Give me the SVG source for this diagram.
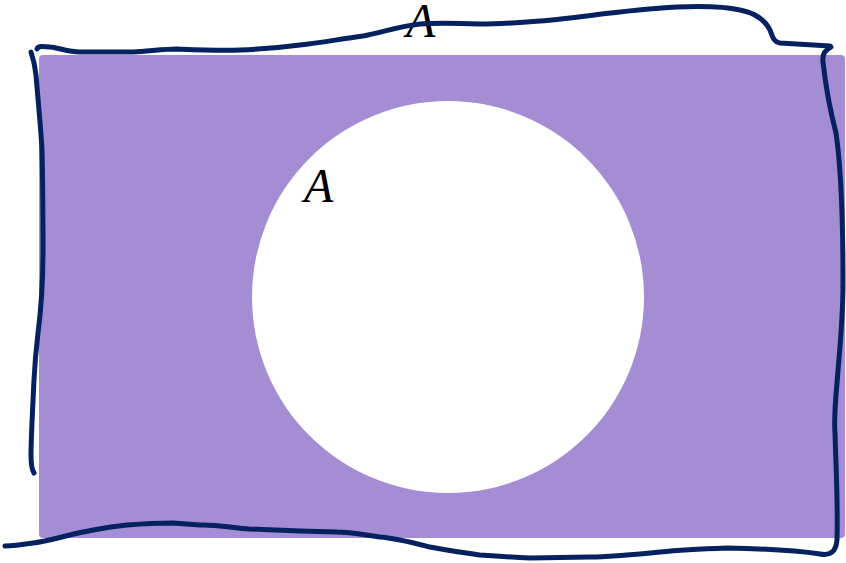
<svg xmlns="http://www.w3.org/2000/svg" width="846" height="563" viewBox="0 0 846 563">
  <style>
    .ink { fill: none; stroke: #062160; stroke-width: 5; stroke-linecap: round; stroke-linejoin: round; }
    .lbl { font-family: "Liberation Serif", "DejaVu Serif", serif; font-style: italic; font-size: 48px; fill: #000; }
  </style>
  <g id="universe">
    <rect x="39" y="55" width="806" height="483" rx="4" fill="#A48DD3"/>
  </g>
  <g id="setA">
    <circle cx="448" cy="297" r="196" fill="#FFFFFF"/>
    <text class="lbl" x="304" y="202">A</text>
  </g>
  <g id="complement-label">
    <text class="lbl" x="406" y="37">A</text>
  </g>
  <g id="outline">
    <path class="ink" d="M 37,49 C 38,46 42,46 50,47 C 60,48 68,52 80,52 L 133,52 C 150,51 165,49 177,49 C 200,50 220,51 240,50 C 265,49 285,47 300,45 C 320,43 340,39 363,36 C 380,33 400,26 420,24 C 435,23 450,23 480,24 C 500,24 515,23 540,21 C 580,18 620,10 677,7 C 700,6 727,7 740,10 C 755,13 765,20 770,30 C 773,38 774,42 780,43 L 830,46"/>
    <path class="ink" d="M 831,47 C 825,50 822,55 823,62 C 825,80 830,110 836,133 C 840,160 843,200 843,283 C 843,320 840,345 837,383 C 835,405 834,420 835,433 C 836,470 838,500 837,540 C 836,552 830,556 820,554 C 800,551 780,549 727,548 C 700,549 680,550 660,552 C 630,555 610,557 590,557 L 530,558 C 510,557 495,556 480,555 C 460,552 445,550 430,547 C 410,542 395,538 380,537 C 365,535 350,532 337,532 L 300,531 C 270,530 255,529 250,529 C 230,528 215,524 200,525 L 173,523 C 155,523 140,524 127,525 C 105,527 95,530 83,532 C 60,537 45,542 33,543 C 20,545 10,546 5,546"/>
    <path class="ink" d="M 31,52 C 33,58 35,65 36,75 C 38,100 41,130 42,150 C 43,190 43,233 43,250 C 43,283 41,310 38,333 C 36,350 35,360 34,380 C 32,420 31,440 31,455 C 31,465 32,470 34,473"/>
  </g>
</svg>
